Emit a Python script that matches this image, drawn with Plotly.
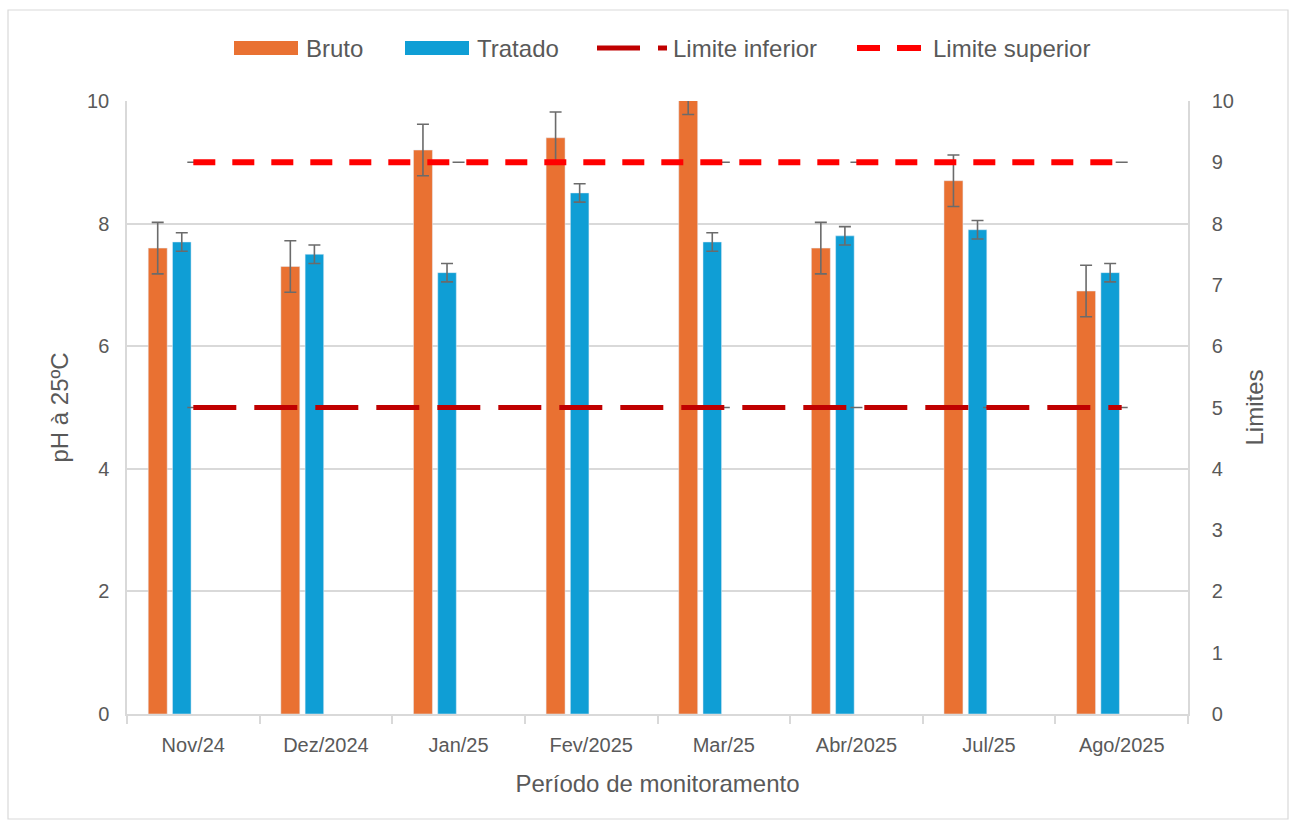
import plotly.graph_objects as go

# ---------------- data ----------------
categories = ["Nov/24", "Dez/2024", "Jan/25", "Fev/2025", "Mar/25", "Abr/2025", "Jul/25", "Ago/2025"]
bruto = [7.6, 7.3, 9.2, 9.4, 10.2, 7.6, 8.7, 6.9]
bruto_err = [0.42, 0.42, 0.42, 0.42, 0.42, 0.42, 0.42, 0.42]
tratado = [7.7, 7.5, 7.2, 8.5, 7.7, 7.8, 7.9, 7.2]
tratado_err = [0.15, 0.15, 0.15, 0.15, 0.15, 0.15, 0.15, 0.15]
limite_inferior = [5, 5, 5, 5, 5, 5, 5, 5]
limite_superior = [9, 9, 9, 9, 9, 9, 9, 9]
left_ticks = [0, 2, 4, 6, 8, 10]
right_ticks = [0, 1, 2, 3, 4, 5, 6, 7, 8, 9, 10]

# ---------------- style ----------------
ORANGE = "#E97132"
BLUE = "#0F9ED5"
RED = "#FF0000"
DARKRED = "#C00000"
TXT = "#595959"
GRID = "#D9D9D9"
ERR = "#6B6B6B"
FONT = "Liberation Sans, Arial, sans-serif"

W, H = 1290, 825
L, R, T, B = 127, 102, 101, 111
PW, PH = W - L - R, H - T - B


def px(xp):
    return (xp - L) / PW


def py(yp):
    return (H - B - yp) / PH


fig = go.Figure()

fig.add_trace(go.Bar(
    x=categories, y=bruto, name="Bruto", marker_color=ORANGE,
    width=0.143, offset=-0.34,
    error_y=dict(type="data", array=bruto_err, visible=True, color=ERR, thickness=1.6, width=6),
    showlegend=False,
))
fig.add_trace(go.Bar(
    x=categories, y=tratado, name="Tratado", marker_color=BLUE,
    width=0.14, offset=-0.157,
    error_y=dict(type="data", array=tratado_err, visible=True, color=ERR, thickness=1.6, width=6),
    showlegend=False,
))
fig.add_trace(go.Scatter(
    x=categories, y=limite_inferior, name="Limite inferior", mode="lines", yaxis="y2",
    line=dict(color=DARKRED, width=5, dash="43px,18px"),
    error_y=dict(type="constant", value=0, visible=True, color=ERR, thickness=1.6, width=6),
    showlegend=False,
))
fig.add_trace(go.Scatter(
    x=categories, y=limite_superior, name="Limite superior", mode="lines", yaxis="y2",
    line=dict(color=RED, width=6, dash="22px,17px"),
    error_y=dict(type="constant", value=0, visible=True, color=ERR, thickness=1.6, width=6),
    showlegend=False,
))

shapes = []
annotations = []
# outer chart border
shapes.append(dict(type="rect", xref="paper", yref="paper", x0=px(8), x1=px(1288), y0=py(819), y1=py(10),
                   line=dict(color=GRID, width=1.2), fillcolor="rgba(0,0,0,0)", layer="below"))

# custom legend
ly = 48
shapes.append(dict(type="rect", xref="paper", yref="paper", x0=px(234), x1=px(298), y0=py(55), y1=py(41),
                   line=dict(width=0), fillcolor=ORANGE))
shapes.append(dict(type="rect", xref="paper", yref="paper", x0=px(405), x1=px(469), y0=py(55), y1=py(41),
                   line=dict(width=0), fillcolor=BLUE))
shapes.append(dict(type="line", xref="paper", yref="paper", x0=px(597), x1=px(640), y0=py(ly), y1=py(ly),
                   line=dict(color=DARKRED, width=5)))
shapes.append(dict(type="line", xref="paper", yref="paper", x0=px(658), x1=px(667), y0=py(ly), y1=py(ly),
                   line=dict(color=DARKRED, width=5)))
shapes.append(dict(type="line", xref="paper", yref="paper", x0=px(857), x1=px(880), y0=py(ly), y1=py(ly),
                   line=dict(color=RED, width=6)))
shapes.append(dict(type="line", xref="paper", yref="paper", x0=px(897), x1=px(921), y0=py(ly), y1=py(ly),
                   line=dict(color=RED, width=6)))
for xp, label in [(304, "Bruto"), (475, "Tratado"), (671, "Limite inferior"), (931, "Limite superior")]:
    annotations.append(dict(x=px(xp), y=py(ly), xref="paper", yref="paper", text=label, showarrow=False,
                            xanchor="left", yanchor="middle", font=dict(family=FONT, size=24, color=TXT)))

fig.update_layout(
    width=W, height=H,
    margin=dict(l=L, r=R, t=T, b=B),
    paper_bgcolor="white", plot_bgcolor="white",
    barmode="overlay",
    font=dict(family=FONT, color=TXT),
    shapes=shapes, annotations=annotations,
    xaxis=dict(
        type="category", range=[-0.5, len(categories) - 0.5],
        showline=True, linecolor=GRID, linewidth=1.5,
        ticks="outside", tickson="boundaries", ticklen=8, tickcolor=GRID, tickwidth=1.5,
        tickfont=dict(family=FONT, size=20, color=TXT), ticklabelstandoff=12,
        showgrid=False,
        title=dict(text="Período de monitoramento", font=dict(family=FONT, size=24, color=TXT), standoff=20),
    ),
    yaxis=dict(
        range=[0, 10], tickvals=left_ticks, showgrid=True, gridcolor=GRID, gridwidth=1.5,
        showline=True, linecolor=GRID, linewidth=1.5, zeroline=False,
        tickfont=dict(family=FONT, size=20, color=TXT), ticklabelstandoff=12,
        title=dict(text="pH à 25ºC", font=dict(family=FONT, size=24, color=TXT), standoff=12),
    ),
    yaxis2=dict(
        range=[0, 10], tickvals=right_ticks, overlaying="y", side="right", showgrid=False,
        showline=True, linecolor=GRID, linewidth=1.5, zeroline=False,
        tickfont=dict(family=FONT, size=20, color=TXT), ticklabelstandoff=18,
        title=dict(text="Limites", font=dict(family=FONT, size=24, color=TXT), standoff=13),
    ),
)

fig.write_html("out.html", config={"displayModeBar": False},
               post_script="document.body.style.margin='0';")
